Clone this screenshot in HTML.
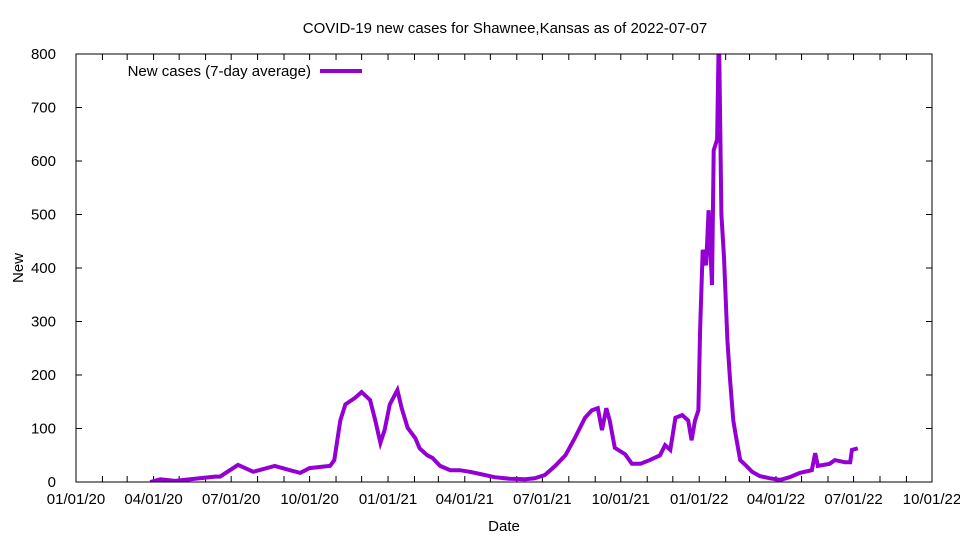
<!DOCTYPE html>
<html><head><meta charset="utf-8"><style>
body{margin:0;background:#fff}
svg text{font-family:"Liberation Sans",sans-serif;fill:#000}
</style></head><body>
<svg id="chart" width="960" height="540" viewBox="0 0 960 540" xmlns="http://www.w3.org/2000/svg">
<defs><clipPath id="clip"><rect x="76" y="54" width="856" height="428"/></clipPath></defs>
<text x="505" y="33" font-size="15" text-anchor="middle">COVID-19 new cases for Shawnee,Kansas as of 2022-07-07</text>
<text x="23" y="268" font-size="15" text-anchor="middle" transform="rotate(-90 23 268)">New</text>
<text x="504" y="531" font-size="15" text-anchor="middle">Date</text>
<g id="axes"></g>
<g id="series" clip-path="url(#clip)"></g>
<rect x="76" y="54" width="856" height="428" fill="none" stroke="#000" stroke-width="1"/>
<g>
<text x="311" y="76" font-size="15" text-anchor="end">New cases (7-day average)</text>
<line x1="320" y1="71" x2="362" y2="71" stroke="#9400d3" stroke-width="4"/>
</g>
</svg>
<script>
// data: days since 2020-01-01
const days=[87,99,116,145,163,169,190,208,233,251,263,274,298,303,310,316,327,335,345,351,357,362,368,377,382,389,398,403,412,418,427,439,450,462,474,491,509,527,538,550,562,574,585,597,605,612,617,622,626,632,644,652,662,673,685,691,697,703,711,718,722,726,730,732,735,739,742,746,748,752,754,757,760,764,767,771,774,779,785,793,802,814,826,837,849,863,867,870,884,890,902,908,910,917];
const cases=[0,5,2,7,10,10,32,19,30,22,17,26,30,41,115,145,157,168,153,115,73,97,145,172,138,101,82,63,50,45,30,22,22,19,15,9,6,5,7,13,30,50,82,120,134,138,97,138,115,64,52,34,34,41,50,69,60,120,125,115,78,115,134,284,434,405,508,368,620,640,850,500,420,265,195,115,86,41,32,19,11,7,4,9,17,22,54,30,34,41,37,37,60,63];
const yTicks=[0,100,200,300,400,500,600,700,800];
const xTickLabels=["01/01/20","04/01/20","07/01/20","10/01/20","01/01/21","04/01/21","07/01/21","10/01/21","01/01/22","04/01/22","07/01/22","10/01/22"];
const x0=76,x1=932,y0=482,y1=54,dMax=1004,vMax=800;
const X=d=>x0+(d/dMax)*(x1-x0);
const Y=v=>y0-(v/vMax)*(y0-y1);
const NS="http://www.w3.org/2000/svg";
const axes=document.getElementById('axes');
function mk(tag,attrs,parent){const e=document.createElementNS(NS,tag);for(const k in attrs)e.setAttribute(k,attrs[k]);parent.appendChild(e);return e;}
function dayOf(s){const [m,d,y]=s.split('/').map(Number);return Math.round((Date.UTC(2000+y,m-1,d)-Date.UTC(2020,0,1))/864e5);}
yTicks.forEach(v=>{
  const t=mk('text',{x:56,y:Y(v)+5,'font-size':15,'text-anchor':'end'},axes);
  
  
  t.textContent=v;
  const l=mk('path',{d:`M${x0} ${Y(v)}h6M${x1} ${Y(v)}h-6`,stroke:'#000'},axes);
  
  
});
xTickLabels.forEach(s=>{
  const x=X(dayOf(s));
  const t=mk('text',{x:x,y:504,'font-size':15,'text-anchor':'middle'},axes);
  
  
  t.textContent=s;
});
for(let y=2020;y<=2022;y++)for(let m=0;m<12;m++){
  const d=Math.round((Date.UTC(y,m,1)-Date.UTC(2020,0,1))/864e5);
  if(d>dMax)break;
  const x=X(d);
  const l=mk('path',{d:`M${x} ${y0}v-6M${x} ${y1}v6`,stroke:'#000'},axes);
  
  
}
const pts=days.map((d,i)=>X(d).toFixed(1)+','+Y(cases[i]).toFixed(1)).join(' ');
const line=mk('polyline',{points:pts,fill:'none',stroke:'#9400d3','stroke-width':4,'stroke-linejoin':'miter'},document.getElementById('series'));


</script>
</body></html>
